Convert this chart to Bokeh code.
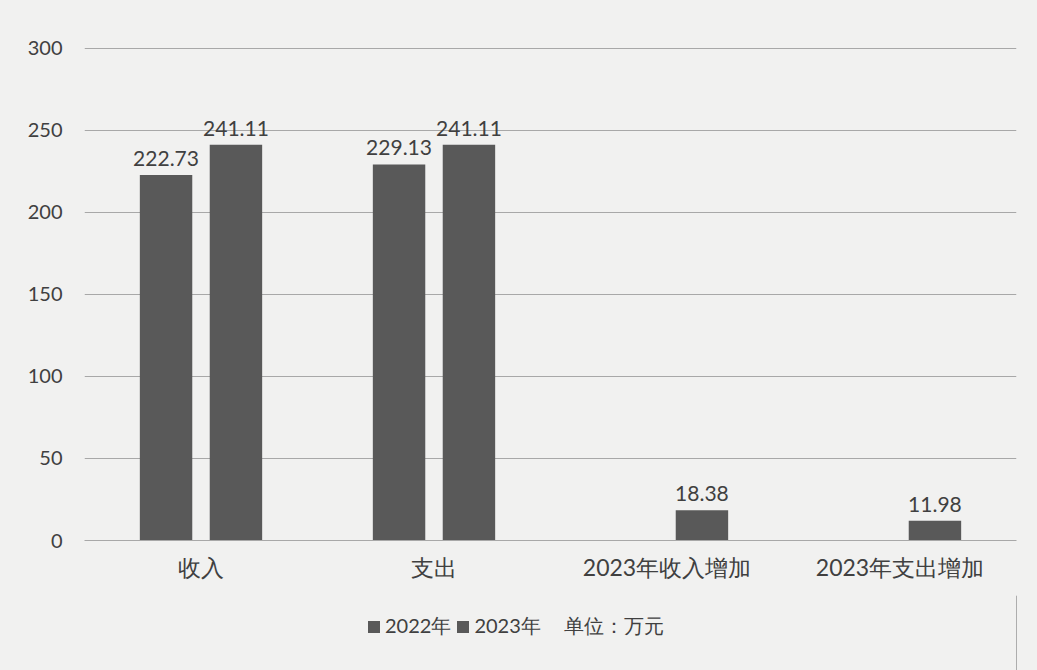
from bokeh.plotting import figure
from bokeh.layouts import column
from bokeh.models import ColumnDataSource, LabelSet, Legend, LegendItem, FactorRange
from bokeh.core.properties import value
from bokeh.transform import dodge
from bokeh.embed import file_html
from bokeh.resources import INLINE

categories = ["收入", "支出", "2023年收入增加", "2023年支出增加"]
values_2022 = [222.73, 229.13, None, None]
values_2023 = [241.11, 241.11, 18.38, 11.98]
series_names = ["2022年", "2023年"]
unit_label = "单位：万元"
y_ticks = [0, 50, 100, 150, 200, 250, 300]

FONT = "Lato"
TXT = "#404040"
BAR = "#595959"
BG = "#f1f1f0"
GRID = "#a8a8a8"

c22 = [c for c, v in zip(categories, values_2022) if v is not None]
v22 = [v for v in values_2022 if v is not None]
src22 = ColumnDataSource(dict(cat=c22, val=v22, lab=[f"{v:.2f}" for v in v22]))
src23 = ColumnDataSource(dict(cat=categories, val=values_2023, lab=[f"{v:.2f}" for v in values_2023]))

p = figure(width=1037, height=595, x_range=FactorRange(*categories, range_padding=0),
           y_range=(0, 301), output_backend="svg", toolbar_location=None,
           min_border_left=84, min_border_right=21, min_border_top=46, min_border_bottom=55)
p.background_fill_color = BG
p.border_fill_color = BG
p.outline_line_color = None

p.vbar(x=dodge("cat", -0.15, range=p.x_range), top="val", width=0.225, source=src22,
       fill_color=BAR, line_color=None)
p.vbar(x=dodge("cat", 0.15, range=p.x_range), top="val", width=0.225, source=src23,
       fill_color=BAR, line_color=None)

for src, off in ((src22, -0.15), (src23, 0.15)):
    p.add_layout(LabelSet(x=dodge("cat", off, range=p.x_range), y="val", text="lab", source=src,
                          text_align="center", text_baseline="bottom", y_offset=9,
                          text_font=value(FONT), text_font_size="21px", text_color=TXT))

p.yaxis.ticker = y_ticks
p.yaxis.axis_line_color = None
p.yaxis.major_tick_line_color = None
p.yaxis.minor_tick_line_color = None
p.yaxis.major_label_text_font = FONT
p.yaxis.major_label_text_font_size = "20px"
p.yaxis.major_label_text_color = TXT
p.yaxis.major_label_standoff = 16

p.xaxis.axis_line_color = GRID
p.xaxis.major_tick_line_color = None
p.xaxis.minor_tick_line_color = None
p.xaxis.major_label_text_font = FONT
p.xaxis.major_label_text_font_size = "23px"
p.xaxis.major_label_text_color = TXT
p.xaxis.major_label_standoff = 6

p.xgrid.grid_line_color = None
p.ygrid.grid_line_color = GRID
p.ygrid.grid_line_width = 1.2

# legend strip below the chart
pl = figure(width=1037, height=75, x_range=(0, 1), y_range=(0, 1), output_backend="svg",
            toolbar_location=None, min_border_left=84, min_border_right=21,
            min_border_top=0, min_border_bottom=0)
pl.background_fill_color = None
pl.border_fill_color = None
pl.outline_line_color = None
pl.axis.visible = False
pl.grid.visible = False
l22 = pl.vbar(x=[5], top=[5], width=1, fill_color=BAR, line_color=None)
l23 = pl.vbar(x=[5], top=[5], width=1, fill_color=BAR, line_color=None)
lun = pl.vbar(x=[5], top=[5], width=1, fill_alpha=0, line_alpha=0)

legend = Legend(items=[LegendItem(label=series_names[0], renderers=[l22]),
                       LegendItem(label=series_names[1], renderers=[l23]),
                       LegendItem(label=unit_label, renderers=[lun])],
                orientation="horizontal", location=(282, 30),
                label_text_font=FONT, label_text_font_size="20px", label_text_color=TXT,
                glyph_width=15, glyph_height=15, spacing=4, label_standoff=4,
                background_fill_alpha=0, border_line_color=None, margin=0, padding=4)
pl.add_layout(legend, "center")

layout = column(p, pl, spacing=0, styles={"background-color": BG})
out = open("out.html", "w")
out.write(file_html(layout, INLINE))
out.close()
